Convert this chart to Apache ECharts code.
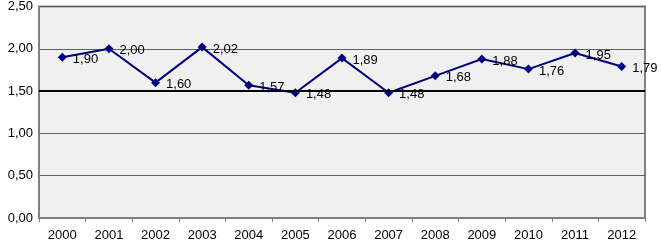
<!DOCTYPE html>
<html><head><meta charset="utf-8">
<script src="https://cdn.jsdelivr.net/npm/echarts@6/dist/echarts.min.js"></script>
<style>html,body{margin:0;padding:0;background:#fff}#c{width:661px;height:244px}</style>
</head><body><div id="c"></div>
<script>
const years = ['2000','2001','2002','2003','2004','2005','2006','2007','2008','2009','2010','2011','2012'];
const values = [1.90, 2.00, 1.60, 2.02, 1.57, 1.48, 1.89, 1.48, 1.68, 1.88, 1.76, 1.95, 1.79];
const refLine = 1.50;
const yTicks = [0, 0.5, 1.0, 1.5, 2.0, 2.5];
const fmt = v => v.toFixed(2).replace('.', ',');
const chart = echarts.init(document.getElementById('c'), null, {renderer:'canvas'});
chart.setOption({
  animation:false,
  textStyle:{fontFamily:'Liberation Sans, Arial, sans-serif'},
  grid:{left:39,right:16,top:5,bottom:26,show:true,backgroundColor:'#f0f0f0',borderColor:'#808080',borderWidth:2},
  xAxis:{type:'category',data:years,boundaryGap:true,
    axisLine:{lineStyle:{color:'#808080',width:1}},
    axisTick:{show:true,length:4,lineStyle:{color:'#808080'}},
    axisLabel:{color:'#000',fontSize:13,margin:11}},
  yAxis:{type:'value',min:yTicks[0],max:yTicks[yTicks.length-1],interval:0.5,
    axisLine:{show:true,lineStyle:{color:'#808080'}},
    axisTick:{show:false},
    axisLabel:{color:'#000',fontSize:13,margin:6,formatter:v=>fmt(v)},
    splitLine:{lineStyle:{color:'#606060',width:1}}},
  series:[{type:'line',data:values,symbol:'diamond',symbolSize:9,
    lineStyle:{color:'#000080',width:2},itemStyle:{color:'#000080'},
    label:{show:true,position:'right',distance:6,offset:[0,2],color:'#000',fontSize:13,formatter:p=>fmt(p.value)},
    markLine:{silent:true,symbol:'none',label:{show:false},lineStyle:{color:'#000',width:2,type:'solid'},data:[{yAxis:refLine}]}
  }]
});
</script></body></html>
